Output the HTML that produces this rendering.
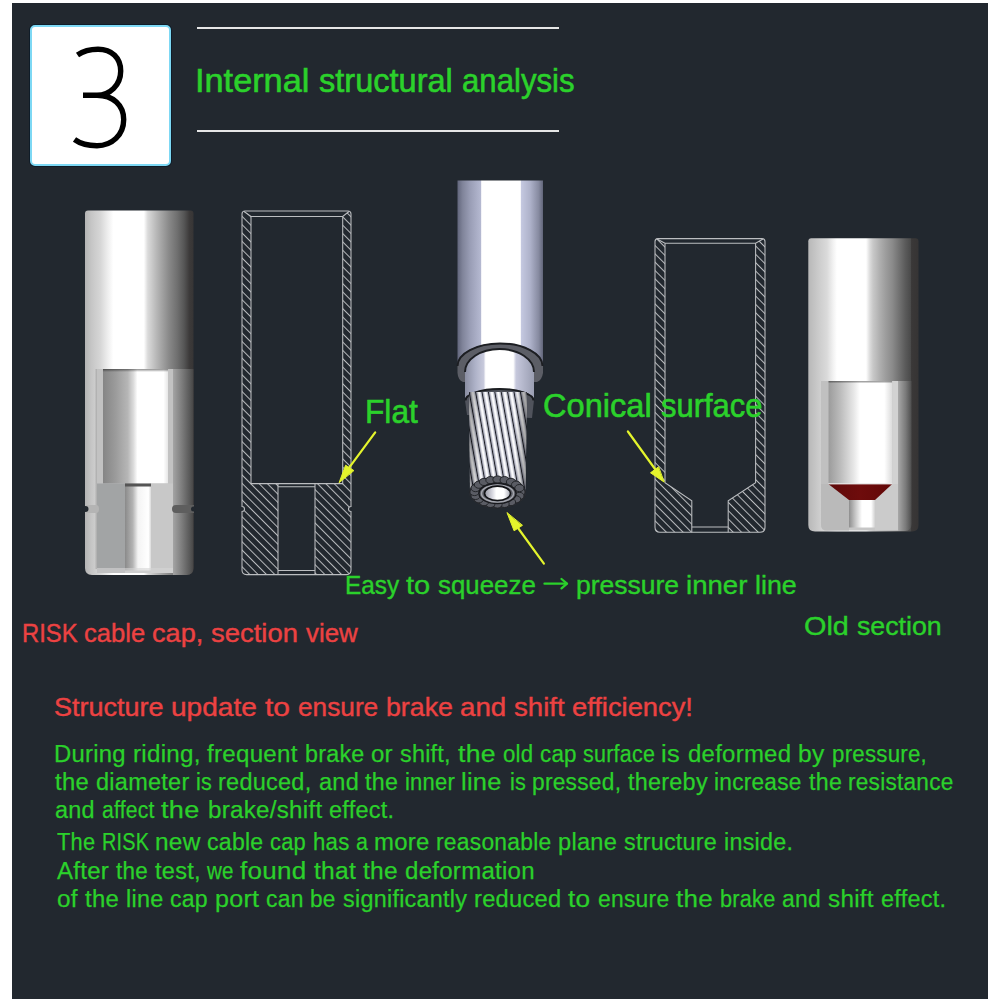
<!DOCTYPE html>
<html><head><meta charset="utf-8">
<style>
html,body{margin:0;padding:0;width:1000px;height:1000px;background:#fff;overflow:hidden}
#panel{position:absolute;left:12px;top:3px;width:976px;height:996px;background:#22282f}
.t{position:absolute;font-family:"Liberation Sans",sans-serif;white-space:nowrap;line-height:1;transform-origin:0 0;-webkit-text-stroke:0.25px currentColor}
.p{letter-spacing:0.25px}
.t[style*="font-size:33px"]{-webkit-text-stroke:0.6px currentColor}
.t[style*="font-size:26px"]{-webkit-text-stroke:0.4px currentColor}
.g{color:#2bd12b}
.r{color:#ec4242}
#box{position:absolute;left:30px;top:25px;width:141px;height:141px;box-sizing:border-box;background:#fff;border:2px solid #7dd8f4;border-radius:5px;box-shadow:0 0 0 1px #0f1c28}
.hl{position:absolute;left:197px;width:362px;height:2px;background:#e6e6e6}
svg{position:absolute;left:0;top:0}
</style></head><body>
<div id="panel"></div>
<div id="box"></div>
<div class="hl" style="top:27px"></div>
<div class="hl" style="top:130px"></div>

<svg width="1000" height="1000" viewBox="0 0 1000 1000">
  <path d="M77.5 55 C83 51.2 90 49.2 98 49.2 C112 49.2 120.7 58 120.7 71 C120.7 85 110 95.2 97 95.2 L83 95.2 M97 95.2 C113 95.2 123.7 105 123.7 119.5 C123.7 135 112 145.7 97 145.7 C88 145.7 80 143.5 74.5 139.5" fill="none" stroke="#000" stroke-width="5.4"/>
</svg>

<svg width="1000" height="1000" viewBox="0 0 1000 1000" id="sv_cyl">
  <defs>
    <linearGradient id="gA" gradientUnits="userSpaceOnUse" x1="85" y1="0" x2="194" y2="0">
      <stop offset="0" stop-color="#b4b4b4"/>
      <stop offset="0.06" stop-color="#c6c6c6"/>
      <stop offset="0.14" stop-color="#d6d6d6"/>
      <stop offset="0.22" stop-color="#f2f2f2"/>
      <stop offset="0.26" stop-color="#ffffff"/>
      <stop offset="0.54" stop-color="#ffffff"/>
      <stop offset="0.576" stop-color="#dadada"/>
      <stop offset="0.654" stop-color="#b8b8b8"/>
      <stop offset="0.713" stop-color="#a0a0a0"/>
      <stop offset="0.773" stop-color="#888888"/>
      <stop offset="0.85" stop-color="#6e6e6e"/>
      <stop offset="0.91" stop-color="#555555"/>
      <stop offset="0.958" stop-color="#3c3a3a"/>
      <stop offset="1" stop-color="#363434"/>
    </linearGradient>
    <linearGradient id="gAin" gradientUnits="userSpaceOnUse" x1="103" y1="0" x2="168" y2="0">
      <stop offset="0" stop-color="#858585"/>
      <stop offset="0.2" stop-color="#9c9c9c"/>
      <stop offset="0.38" stop-color="#b6b6b6"/>
      <stop offset="0.47" stop-color="#dcdcdc"/>
      <stop offset="0.53" stop-color="#ffffff"/>
      <stop offset="0.93" stop-color="#ffffff"/>
      <stop offset="1" stop-color="#e6e6e6"/>
    </linearGradient>
    <linearGradient id="gAbore" gradientUnits="userSpaceOnUse" x1="125" y1="0" x2="151" y2="0">
      <stop offset="0" stop-color="#8a8a8a"/>
      <stop offset="0.3" stop-color="#b4b4b4"/>
      <stop offset="0.5" stop-color="#f4f4f4"/>
      <stop offset="0.9" stop-color="#ffffff"/>
      <stop offset="1" stop-color="#dadada"/>
    </linearGradient>
    <linearGradient id="gB" gradientUnits="userSpaceOnUse" x1="808.3" y1="0" x2="918.5" y2="0">
      <stop offset="0" stop-color="#b8b8b8"/>
      <stop offset="0.106" stop-color="#cecece"/>
      <stop offset="0.17" stop-color="#dadada"/>
      <stop offset="0.225" stop-color="#f2f2f2"/>
      <stop offset="0.26" stop-color="#ffffff"/>
      <stop offset="0.524" stop-color="#ffffff"/>
      <stop offset="0.558" stop-color="#dcdcdc"/>
      <stop offset="0.587" stop-color="#c8c8c8"/>
      <stop offset="0.646" stop-color="#b0b0b0"/>
      <stop offset="0.705" stop-color="#9c9c9c"/>
      <stop offset="0.764" stop-color="#8a8a8a"/>
      <stop offset="0.823" stop-color="#727272"/>
      <stop offset="0.882" stop-color="#5a5a5a"/>
      <stop offset="0.929" stop-color="#4a4a4a"/>
      <stop offset="0.937" stop-color="#3a3838"/>
      <stop offset="1" stop-color="#363434"/>
    </linearGradient>
    <linearGradient id="gBin" gradientUnits="userSpaceOnUse" x1="828" y1="0" x2="892" y2="0">
      <stop offset="0" stop-color="#9a9a9a"/>
      <stop offset="0.2" stop-color="#bdbdbd"/>
      <stop offset="0.4" stop-color="#e6e6e6"/>
      <stop offset="0.5" stop-color="#ffffff"/>
      <stop offset="0.88" stop-color="#ffffff"/>
      <stop offset="1" stop-color="#dcdcdc"/>
    </linearGradient>
    <linearGradient id="gBbore" gradientUnits="userSpaceOnUse" x1="849" y1="0" x2="875" y2="0">
      <stop offset="0" stop-color="#8e8e8e"/>
      <stop offset="0.25" stop-color="#c8c8c8"/>
      <stop offset="0.5" stop-color="#ffffff"/>
      <stop offset="0.85" stop-color="#ffffff"/>
      <stop offset="1" stop-color="#d0d0d0"/>
    </linearGradient>
    <linearGradient id="gRed" gradientUnits="userSpaceOnUse" x1="828" y1="0" x2="892" y2="0">
      <stop offset="0" stop-color="#5e0a0a"/>
      <stop offset="0.5" stop-color="#6e0c0c"/>
      <stop offset="1" stop-color="#620808"/>
    </linearGradient>
    <linearGradient id="gAshell" gradientUnits="userSpaceOnUse" x1="173" y1="0" x2="194" y2="0">
      <stop offset="0" stop-color="#a4a4a4"/>
      <stop offset="0.45" stop-color="#7a7a7a"/>
      <stop offset="0.85" stop-color="#535353"/>
      <stop offset="1" stop-color="#444242"/>
    </linearGradient>
    <linearGradient id="gBshell" gradientUnits="userSpaceOnUse" x1="898" y1="0" x2="912" y2="0">
      <stop offset="0" stop-color="#a8a8a8"/>
      <stop offset="0.55" stop-color="#7a7a7a"/>
      <stop offset="1" stop-color="#4a4a4a"/>
    </linearGradient>
    <linearGradient id="gTopShade" x1="0" y1="0" x2="0" y2="1">
      <stop offset="0" stop-color="#000" stop-opacity="0.45"/>
      <stop offset="1" stop-color="#000" stop-opacity="0"/>
    </linearGradient>
  </defs>

  <!-- RISK cap 3D -->
  <path d="M88,210.5 L190.5,210.5 Q193.5,210.5 193.5,213.5 L193.5,568 Q193.5,575 186.5,575 L92,575 Q85,575 85,568 L85,213.5 Q85,210.5 88,210.5 Z" fill="url(#gA)"/>
  
  <!-- cutout -->
  <path d="M96.6,369 L173,369 L173,573 L102,573 Q96.6,573 96.6,567 Z" fill="#c2c2c2"/>
  <rect x="103" y="369" width="65" height="114.5" fill="url(#gAin)"/>
  <rect x="103" y="369" width="65" height="3" fill="url(#gTopShade)"/>
  <rect x="97" y="483.5" width="28" height="89.5" fill="#a2a4a5"/>
  <rect x="151" y="483.5" width="22" height="89.5" fill="#c8c8c8"/>
  <rect x="125" y="483.5" width="26" height="87" fill="url(#gAbore)"/>
  <rect x="125" y="483.5" width="26" height="3" fill="#555"/>
  <rect x="97" y="568" width="76" height="5" fill="#d6d6d6" opacity="0.6"/>
  <path d="M173,369 L193.5,369 L193.5,568 Q193.5,575 186.5,575 L173,575 Z" fill="url(#gAshell)"/>
  <rect x="95.5" y="369" width="1.5" height="200" fill="#a8a8a8" opacity="0.7"/>
  <!-- grooves -->
  <path d="M85,505 L96,505 Q99,505 99,509 Q99,513 96,513 L85,513 Z" fill="#b4b4b4"/>
  <circle cx="85.5" cy="509" r="3" fill="#22282f"/>
  <path d="M194,505 L176,505 Q172,505 172,509 Q172,513 176,513 L194,513 Z" fill="#5e5e5e"/>
  <circle cx="193.5" cy="509" r="2.5" fill="#22282f"/>

  <!-- old section 3D -->
  <path d="M811.3,238.3 L915.5,238.3 Q918.5,238.3 918.5,241.3 L918.5,525 Q918.5,531.5 912,531.5 L815,531.5 Q808.3,531.5 808.3,525 L808.3,241.3 Q808.3,238.3 811.3,238.3 Z" fill="url(#gB)"/>
  
  <path d="M821,381 L898,381 L898,530.5 L827,530.5 Q821,530.5 821,525 Z" fill="#c6c6c6"/>
  <rect x="828.3" y="381" width="63.9" height="103" fill="url(#gBin)"/>
  <rect x="828.3" y="381" width="63.9" height="2.5" fill="url(#gTopShade)"/>
  <path d="M821,484 L849,484 L849,530.5 L827,530.5 Q821,530.5 821,525 Z" fill="#bababa"/>
  <rect x="875" y="484" width="23" height="46.5" fill="#cbcbcb"/>
  <rect x="821" y="381" width="7.3" height="103" fill="#c0c0c0"/>
  <rect x="892.2" y="381" width="5.8" height="103" fill="#d2d2d2"/>
  <path d="M828.3,484 L892.2,484 L875,500 L849,500 Z" fill="url(#gRed)"/>
  <rect x="828.3" y="483.2" width="63.9" height="1.2" fill="#e8e8e8"/>
  <rect x="849" y="500" width="26" height="27.5" fill="url(#gBbore)"/>
  <path d="M898,381 L911.5,381 L911.5,524 Q911.5,530.5 905,531 L898,531 Z" fill="url(#gBshell)"/>
</svg>

<svg width="1000" height="1000" viewBox="0 0 1000 1000" id="sv_cab">
  <defs>
    <linearGradient id="gC" gradientUnits="userSpaceOnUse" x1="457.5" y1="0" x2="543" y2="0">
      <stop offset="0" stop-color="#62667c"/>
      <stop offset="0.06" stop-color="#80849a"/>
      <stop offset="0.15" stop-color="#9a9eb6"/>
      <stop offset="0.27" stop-color="#b4b8d0"/>
      <stop offset="0.279" stop-color="#f0f0f6"/>
      <stop offset="0.29" stop-color="#ffffff"/>
      <stop offset="0.735" stop-color="#ffffff"/>
      <stop offset="0.748" stop-color="#c4c8e0"/>
      <stop offset="0.85" stop-color="#aeb2ca"/>
      <stop offset="0.95" stop-color="#868aa0"/>
      <stop offset="1" stop-color="#62667a"/>
    </linearGradient>
    <linearGradient id="gS" gradientUnits="userSpaceOnUse" x1="465" y1="0" x2="534" y2="0">
      <stop offset="0" stop-color="#8a8ea2"/>
      <stop offset="0.15" stop-color="#aeb2c8"/>
      <stop offset="0.27" stop-color="#c8cadc"/>
      <stop offset="0.3" stop-color="#ffffff"/>
      <stop offset="0.7" stop-color="#ffffff"/>
      <stop offset="0.74" stop-color="#c6c8dc"/>
      <stop offset="1" stop-color="#9a9eb2"/>
    </linearGradient>
    <linearGradient id="gStr" gradientUnits="userSpaceOnUse" x1="0" y1="0" x2="6.4" y2="0">
      <stop offset="0" stop-color="#14161c"/>
      <stop offset="0.13" stop-color="#20222a"/>
      <stop offset="0.2" stop-color="#9a9cac"/>
      <stop offset="0.45" stop-color="#f4f4f8"/>
      <stop offset="0.65" stop-color="#ffffff"/>
      <stop offset="0.9" stop-color="#c4c6d2"/>
      <stop offset="1" stop-color="#7a7c8a"/>
    </linearGradient>
    <pattern id="strands" patternUnits="userSpaceOnUse" width="6.4" height="200" patternTransform="translate(470,0) skewX(10)">
      <rect x="0" y="0" width="6.4" height="200" fill="url(#gStr)"/>
    </pattern>
    <linearGradient id="gShadeStr" gradientUnits="userSpaceOnUse" x1="469" y1="0" x2="527" y2="0">
      <stop offset="0" stop-color="#000" stop-opacity="0.35"/>
      <stop offset="0.2" stop-color="#000" stop-opacity="0"/>
      <stop offset="0.8" stop-color="#000" stop-opacity="0"/>
      <stop offset="1" stop-color="#000" stop-opacity="0.4"/>
    </linearGradient>
    <linearGradient id="gHole" gradientUnits="userSpaceOnUse" x1="484.5" y1="0" x2="510.5" y2="0">
      <stop offset="0" stop-color="#9496a2"/>
      <stop offset="0.3" stop-color="#d8d8e0"/>
      <stop offset="0.45" stop-color="#ffffff"/>
      <stop offset="0.75" stop-color="#ffffff"/>
      <stop offset="1" stop-color="#a4a6b2"/>
    </linearGradient>
    <clipPath id="cStr"><path d="M469,392 L527,392 L525.5,492 L470,492 Z"/></clipPath>
  </defs>
  <!-- outer tube -->
  <rect x="457.5" y="180.5" width="85.5" height="185" fill="url(#gC)"/>
  <!-- rim -->
  <path d="M457.5,365 A42.75,22 0 0 1 543,365 L543,373 Q542,380 537,382 L463,382 Q458,380 457.5,373 Z" fill="#5c5e66"/>
  <path d="M457.5,366 A42.5,22.5 0 0 1 542.5,366" fill="none" stroke="#1c1e22" stroke-width="2"/>
  <!-- sleeve -->
  <path d="M465,372 A34.5,23 0 0 1 534,372 L534,400 L465,400 Z" fill="url(#gS)"/>
  <path d="M465,372 A34.5,23 0 0 1 534,372" fill="none" stroke="#1c1e22" stroke-width="2"/>
  <!-- sleeve end face -->
  <path d="M465,400 A34.5,11.5 0 0 1 534,400 L532,418 L467,415 Z" fill="#50535c"/>
  <path d="M465.5,400.5 A34,11.5 0 0 1 533.5,400.5" fill="none" stroke="#1a1c20" stroke-width="2"/>
  <!-- strands -->
  <g clip-path="url(#cStr)">
    <rect x="440" y="385" width="120" height="110" fill="url(#strands)"/>
    <rect x="440" y="385" width="120" height="110" fill="url(#gShadeStr)"/>
  </g>
  <!-- end cap -->
  <ellipse cx="497.5" cy="492.5" rx="28.5" ry="16" fill="#2a2c32"/>
    <ellipse cx="520.5" cy="492.0" rx="4.6" ry="3.6" fill="#5a5c64" stroke="#1e2024" stroke-width="0.9"/>
    <ellipse cx="519.4" cy="495.9" rx="4.6" ry="3.6" fill="#5a5c64" stroke="#1e2024" stroke-width="0.9"/>
    <ellipse cx="516.1" cy="499.3" rx="4.6" ry="3.6" fill="#5a5c64" stroke="#1e2024" stroke-width="0.9"/>
    <ellipse cx="511.0" cy="502.1" rx="4.6" ry="3.6" fill="#5a5c64" stroke="#1e2024" stroke-width="0.9"/>
    <ellipse cx="504.6" cy="503.9" rx="4.6" ry="3.6" fill="#5a5c64" stroke="#1e2024" stroke-width="0.9"/>
    <ellipse cx="497.5" cy="504.5" rx="4.6" ry="3.6" fill="#5a5c64" stroke="#1e2024" stroke-width="0.9"/>
    <ellipse cx="490.4" cy="503.9" rx="4.6" ry="3.6" fill="#5a5c64" stroke="#1e2024" stroke-width="0.9"/>
    <ellipse cx="484.0" cy="502.1" rx="4.6" ry="3.6" fill="#5a5c64" stroke="#1e2024" stroke-width="0.9"/>
    <ellipse cx="478.9" cy="499.3" rx="4.6" ry="3.6" fill="#5a5c64" stroke="#1e2024" stroke-width="0.9"/>
    <ellipse cx="475.6" cy="495.9" rx="4.6" ry="3.6" fill="#5a5c64" stroke="#1e2024" stroke-width="0.9"/>
    <ellipse cx="474.5" cy="492.0" rx="4.6" ry="3.6" fill="#5a5c64" stroke="#1e2024" stroke-width="0.9"/>
    <ellipse cx="475.6" cy="488.1" rx="4.6" ry="3.6" fill="#5a5c64" stroke="#1e2024" stroke-width="0.9"/>
    <ellipse cx="478.9" cy="484.7" rx="4.6" ry="3.6" fill="#5a5c64" stroke="#1e2024" stroke-width="0.9"/>
    <ellipse cx="484.0" cy="481.9" rx="4.6" ry="3.6" fill="#5a5c64" stroke="#1e2024" stroke-width="0.9"/>
    <ellipse cx="490.4" cy="480.1" rx="4.6" ry="3.6" fill="#5a5c64" stroke="#1e2024" stroke-width="0.9"/>
    <ellipse cx="497.5" cy="479.5" rx="4.6" ry="3.6" fill="#5a5c64" stroke="#1e2024" stroke-width="0.9"/>
    <ellipse cx="504.6" cy="480.1" rx="4.6" ry="3.6" fill="#5a5c64" stroke="#1e2024" stroke-width="0.9"/>
    <ellipse cx="511.0" cy="481.9" rx="4.6" ry="3.6" fill="#5a5c64" stroke="#1e2024" stroke-width="0.9"/>
    <ellipse cx="516.1" cy="484.7" rx="4.6" ry="3.6" fill="#5a5c64" stroke="#1e2024" stroke-width="0.9"/>
    <ellipse cx="519.4" cy="488.1" rx="4.6" ry="3.6" fill="#5a5c64" stroke="#1e2024" stroke-width="0.9"/>
  <ellipse cx="497.5" cy="493.5" rx="18.5" ry="10" fill="#5e6068" stroke="#18191d" stroke-width="1.4"/>
  <ellipse cx="497.5" cy="493.5" rx="16" ry="8.6" fill="none" stroke="#a4a6ae" stroke-width="1.4"/>
  <ellipse cx="497.5" cy="493.3" rx="13" ry="7.2" fill="url(#gHole)" stroke="#121316" stroke-width="1.6"/>
</svg>

<svg width="1000" height="1000" viewBox="0 0 1000 1000" id="sv_sec">
  <defs>
    <pattern id="hatch" patternUnits="userSpaceOnUse" width="5.9" height="20" patternTransform="rotate(-45)">
      <rect x="0" y="0" width="1.0" height="20" fill="#b8babd"/>
    </pattern>
    <clipPath id="c1">
      <path d="M244,211 L251,216.5 L251,483.6 L278,483.6 L278,574.6 L246,574.6 Q242,574.6 242,570.6 L242,511.5 A2.5,2.5 0 0 0 242,506.5 L242,213 Q242,211 244,211 Z"/>
      <path d="M349,211 Q351,211 351,213 L351,506.5 A2.5,2.5 0 0 0 351,511.5 L351,570.6 Q351,574.6 347,574.6 L315,574.6 L315,483.6 L342.7,483.6 L342.7,216.5 Z"/>
    </clipPath>
    <clipPath id="c2">
      <path d="M657,238.6 L665,243.2 L665,482.8 L691.8,500.8 L691.8,532.3 L660,532.3 Q655,532.3 655,527.3 L655,240.6 Q655,238.6 657,238.6 Z"/>
      <path d="M763,238.6 Q765,238.6 765,240.6 L765,527.3 Q765,532.3 760,532.3 L728.2,532.3 L728.2,500.8 L755.6,482.8 L755.6,243.2 Z"/>
    </clipPath>
  </defs>
  <g clip-path="url(#c1)"><rect x="230" y="200" width="130" height="380" fill="url(#hatch)"/></g>
  <g fill="none" stroke="#bcbec1" stroke-width="1.05">
    <path d="M245,211 L348,211 Q351,211 351,214 L351,506.5 A2.5,2.5 0 0 0 351,511.5 L351,570 Q351,574.6 346.4,574.6 L246.6,574.6 Q242,574.6 242,570 L242,511.5 A2.5,2.5 0 0 0 242,506.5 L242,214 Q242,211 245,211 Z"/>
    <path d="M244,211.5 L251,216.5 L342.7,216.5 L349,211.5 M251,216.5 L251,483.6 L342.7,483.6 L342.7,216.5 M278,483.6 L278,574.6 M315,483.6 L315,574.6 M278,486.7 L315,486.7 M278,570.4 L315,570.4"/>
  </g>
  <g clip-path="url(#c2)"><rect x="640" y="230" width="140" height="310" fill="url(#hatch)"/></g>
  <g fill="none" stroke="#bcbec1" stroke-width="1.05">
    <path d="M658,238.6 L762,238.6 Q765,238.6 765,241.6 L765,527.3 Q765,532.3 760,532.3 L660,532.3 Q655,532.3 655,527.3 L655,241.6 Q655,238.6 658,238.6 Z"/>
    <path d="M657,239 L665,243.2 L755.6,243.2 L763,239 M665,243.2 L665,482.8 L691.8,500.8 L691.8,532.3 M755.6,243.2 L755.6,482.8 L728.2,500.8 L728.2,532.3 M691.8,527 L728.2,527"/>
  </g>
  <!-- arrows -->
  <g stroke="#e4f42c" stroke-width="2.2" fill="#e4f42c" stroke-linecap="round">
    <line x1="375.2" y1="432.4" x2="349" y2="467.8"/>
    <path d="M339.2,482.4 L345.6,465.2 L353.6,470.4 Z" stroke-width="1" stroke-linejoin="round"/>
    <line x1="627.9" y1="431.5" x2="655" y2="469"/>
    <path d="M663.9,481.9 L650.5,472.8 L658.3,467.0 Z" stroke-width="1" stroke-linejoin="round"/>
    <line x1="543.9" y1="563.7" x2="518" y2="528"/>
    <path d="M507.1,512.9 L514.1,530.8 L522.2,525.5 Z" stroke-width="1" stroke-linejoin="round"/>
  </g>
  <g stroke="#2bd12b" stroke-width="2.3" fill="none" stroke-linecap="round" stroke-linejoin="round">
    <line x1="544.5" y1="583.7" x2="566.5" y2="583.7"/>
    <path d="M561.5,579 L567,583.7 L561.5,588.4"/>
  </g>
</svg>

<div class="t g" id="t_title_0" style="left:194.91px;top:63.67px;font-size:33px;transform:scaleX(1.0392)">Internal</div>
<div class="t g" id="t_title_1" style="left:318.82px;top:63.67px;font-size:33px;transform:scaleX(0.9858)">structural</div>
<div class="t g" id="t_title_2" style="left:461.67px;top:63.67px;font-size:33px;transform:scaleX(0.9437)">analysis</div>
<div class="t g" id="t_flat" style="left:364.88px;top:394.57px;font-size:33px;transform:scaleX(0.9597)">Flat</div>
<div class="t g" id="t_con_0" style="left:543.14px;top:389.27px;font-size:33px;transform:scaleX(0.9871)">Conical</div>
<div class="t g" id="t_con_1" style="left:660.82px;top:389.27px;font-size:33px;transform:scaleX(0.9367)">surface</div>
<div class="t g" id="t_easy_0" style="left:344.64px;top:572.29px;font-size:26px;transform:scaleX(0.9377)">Easy</div>
<div class="t g" id="t_easy_1" style="left:405.64px;top:572.29px;font-size:26px;transform:scaleX(1.1139)">to</div>
<div class="t g" id="t_easy_2" style="left:437.82px;top:572.29px;font-size:26px;transform:scaleX(0.9945)">squeeze</div>
<div class="t g" id="t_easy2_0" style="left:576.01px;top:572.29px;font-size:26px;transform:scaleX(1.0186)">pressure</div>
<div class="t g" id="t_easy2_1" style="left:686.37px;top:572.29px;font-size:26px;transform:scaleX(1.0609)">inner</div>
<div class="t g" id="t_easy2_2" style="left:755.40px;top:572.29px;font-size:26px;transform:scaleX(1.0304)">line</div>
<div class="t r" id="t_risk_0" style="left:22.03px;top:620.09px;font-size:26px;transform:scaleX(0.9154)">RISK</div>
<div class="t r" id="t_risk_1" style="left:84.14px;top:620.09px;font-size:26px;transform:scaleX(0.9837)">cable</div>
<div class="t r" id="t_risk_2" style="left:152.34px;top:620.09px;font-size:26px;transform:scaleX(1.0430)">cap,</div>
<div class="t r" id="t_risk_3" style="left:211.13px;top:620.09px;font-size:26px;transform:scaleX(1.0546)">section</div>
<div class="t r" id="t_risk_4" style="left:305.62px;top:620.09px;font-size:26px;transform:scaleX(0.9955)">view</div>
<div class="t g" id="t_old_0" style="left:803.73px;top:612.79px;font-size:26px;transform:scaleX(1.1096)">Old</div>
<div class="t g" id="t_old_1" style="left:856.63px;top:612.79px;font-size:26px;transform:scaleX(1.0282)">section</div>
<div class="t r" id="t_struct_0" style="left:53.99px;top:693.59px;font-size:26px;transform:scaleX(1.0390)">Structure</div>
<div class="t r" id="t_struct_1" style="left:171.06px;top:693.59px;font-size:26px;transform:scaleX(1.0788)">update</div>
<div class="t r" id="t_struct_2" style="left:264.64px;top:693.59px;font-size:26px;transform:scaleX(1.1536)">to</div>
<div class="t r" id="t_struct_3" style="left:298.12px;top:693.59px;font-size:26px;transform:scaleX(1.0090)">ensure</div>
<div class="t r" id="t_struct_4" style="left:385.60px;top:693.59px;font-size:26px;transform:scaleX(1.0282)">brake</div>
<div class="t r" id="t_struct_5" style="left:459.87px;top:693.59px;font-size:26px;transform:scaleX(1.0644)">and</div>
<div class="t r" id="t_struct_6" style="left:513.73px;top:693.59px;font-size:26px;transform:scaleX(1.0625)">shift</div>
<div class="t r" id="t_struct_7" style="left:572.08px;top:693.59px;font-size:26px;transform:scaleX(1.0499)">efficiency!</div>
<div class="t g p" id="t_l1_0" style="left:53.89px;top:742.88px;font-size:23px;transform:scaleX(1.0370)">During</div>
<div class="t g p" id="t_l1_1" style="left:132.58px;top:742.88px;font-size:23px;transform:scaleX(1.0524)">riding,</div>
<div class="t g p" id="t_l1_2" style="left:207.33px;top:742.88px;font-size:23px;transform:scaleX(1.0496)">frequent</div>
<div class="t g p" id="t_l1_3" style="left:305.01px;top:742.88px;font-size:23px;transform:scaleX(1.0136)">brake</div>
<div class="t g p" id="t_l1_4" style="left:371.33px;top:742.88px;font-size:23px;transform:scaleX(1.0438)">or</div>
<div class="t g p" id="t_l1_5" style="left:400.13px;top:742.88px;font-size:23px;transform:scaleX(1.0157)">shift,</div>
<div class="t g p" id="t_l1_6" style="left:457.74px;top:742.88px;font-size:23px;transform:scaleX(1.1584)">the</div>
<div class="t g p" id="t_l1_7" style="left:503.32px;top:742.88px;font-size:23px;transform:scaleX(0.9663)">old</div>
<div class="t g p" id="t_l1_8" style="left:540.12px;top:742.88px;font-size:23px;transform:scaleX(0.9714)">cap</div>
<div class="t g p" id="t_l1_9" style="left:583.32px;top:742.88px;font-size:23px;transform:scaleX(0.9338)">surface</div>
<div class="t g p" id="t_l1_10" style="left:661.43px;top:742.88px;font-size:23px;transform:scaleX(1.1077)">is</div>
<div class="t g p" id="t_l1_11" style="left:687.73px;top:742.88px;font-size:23px;transform:scaleX(1.0411)">deformed</div>
<div class="t g p" id="t_l1_12" style="left:797.86px;top:742.88px;font-size:23px;transform:scaleX(1.0690)">by</div>
<div class="t g p" id="t_l1_13" style="left:831.55px;top:742.88px;font-size:23px;transform:scaleX(0.9687)">pressure,</div>
<div class="t g p" id="t_l2_0" style="left:54.93px;top:770.63px;font-size:23px;transform:scaleX(1.0365)">the</div>
<div class="t g p" id="t_l2_1" style="left:95.73px;top:770.63px;font-size:23px;transform:scaleX(1.0219)">diameter</div>
<div class="t g p" id="t_l2_2" style="left:196.08px;top:770.63px;font-size:23px;transform:scaleX(0.9389)">is</div>
<div class="t g p" id="t_l2_3" style="left:218.31px;top:770.63px;font-size:23px;transform:scaleX(1.0211)">reduced,</div>
<div class="t g p" id="t_l2_4" style="left:318.53px;top:770.63px;font-size:23px;transform:scaleX(1.0226)">and</div>
<div class="t g p" id="t_l2_5" style="left:365.33px;top:770.63px;font-size:23px;transform:scaleX(1.0108)">the</div>
<div class="t g p" id="t_l2_6" style="left:405.16px;top:770.63px;font-size:23px;transform:scaleX(0.9554)">inner</div>
<div class="t g p" id="t_l2_7" style="left:461.43px;top:770.63px;font-size:23px;transform:scaleX(1.1049)">line</div>
<div class="t g p" id="t_l2_8" style="left:509.57px;top:770.63px;font-size:23px;transform:scaleX(0.9432)">is</div>
<div class="t g p" id="t_l2_9" style="left:531.93px;top:770.63px;font-size:23px;transform:scaleX(0.9890)">pressed,</div>
<div class="t g p" id="t_l2_10" style="left:627.73px;top:770.63px;font-size:23px;transform:scaleX(1.0174)">thereby</div>
<div class="t g p" id="t_l2_11" style="left:714.34px;top:770.63px;font-size:23px;transform:scaleX(0.9855)">increase</div>
<div class="t g p" id="t_l2_12" style="left:808.53px;top:770.63px;font-size:23px;transform:scaleX(1.0108)">the</div>
<div class="t g p" id="t_l2_13" style="left:848.34px;top:770.63px;font-size:23px;transform:scaleX(0.9831)">resistance</div>
<div class="t g p" id="t_l3_0" style="left:55.13px;top:799.13px;font-size:23px;transform:scaleX(1.0183)">and</div>
<div class="t g p" id="t_l3_1" style="left:101.71px;top:799.13px;font-size:23px;transform:scaleX(0.9191)">affect</div>
<div class="t g p" id="t_l3_2" style="left:160.55px;top:799.13px;font-size:23px;transform:scaleX(1.1800)">the</div>
<div class="t g p" id="t_l3_3" style="left:207.98px;top:799.13px;font-size:23px;transform:scaleX(1.0507)">brake/shift</div>
<div class="t g p" id="t_l3_4" style="left:329.33px;top:799.13px;font-size:23px;transform:scaleX(1.0219)">effect.</div>
<div class="t g p" id="t_l4_0" style="left:57.32px;top:831.38px;font-size:23px;transform:scaleX(0.9496)">The</div>
<div class="t g p" id="t_l4_1" style="left:102.05px;top:831.38px;font-size:23px;transform:scaleX(0.8610)">RISK</div>
<div class="t g p" id="t_l4_2" style="left:154.67px;top:831.38px;font-size:23px;transform:scaleX(1.0621)">new</div>
<div class="t g p" id="t_l4_3" style="left:207.33px;top:831.38px;font-size:23px;transform:scaleX(1.0036)">cable</div>
<div class="t g p" id="t_l4_4" style="left:270.42px;top:831.38px;font-size:23px;transform:scaleX(0.9522)">cap</div>
<div class="t g p" id="t_l4_5" style="left:312.75px;top:831.38px;font-size:23px;transform:scaleX(0.9661)">has</div>
<div class="t g p" id="t_l4_6" style="left:355.72px;top:831.38px;font-size:23px;transform:scaleX(0.9284)">a</div>
<div class="t g p" id="t_l4_7" style="left:373.89px;top:831.38px;font-size:23px;transform:scaleX(1.0393)">more</div>
<div class="t g p" id="t_l4_8" style="left:436.33px;top:831.38px;font-size:23px;transform:scaleX(0.9923)">reasonable</div>
<div class="t g p" id="t_l4_9" style="left:558.30px;top:831.38px;font-size:23px;transform:scaleX(1.0259)">plane</div>
<div class="t g p" id="t_l4_10" style="left:624.13px;top:831.38px;font-size:23px;transform:scaleX(1.0145)">structure</div>
<div class="t g p" id="t_l4_11" style="left:723.91px;top:831.38px;font-size:23px;transform:scaleX(1.0153)">inside.</div>
<div class="t g p" id="t_l5_0" style="left:57.13px;top:859.88px;font-size:23px;transform:scaleX(1.0450)">After</div>
<div class="t g p" id="t_l5_1" style="left:116.12px;top:859.88px;font-size:23px;transform:scaleX(0.9755)">the</div>
<div class="t g p" id="t_l5_2" style="left:154.53px;top:859.88px;font-size:23px;transform:scaleX(1.0248)">test,</div>
<div class="t g p" id="t_l5_3" style="left:207.01px;top:859.88px;font-size:23px;transform:scaleX(0.8950)">we</div>
<div class="t g p" id="t_l5_4" style="left:239.74px;top:859.88px;font-size:23px;transform:scaleX(1.1307)">found</div>
<div class="t g p" id="t_l5_5" style="left:313.73px;top:859.88px;font-size:23px;transform:scaleX(1.0695)">that</div>
<div class="t g p" id="t_l5_6" style="left:362.93px;top:859.88px;font-size:23px;transform:scaleX(1.0670)">the</div>
<div class="t g p" id="t_l5_7" style="left:404.93px;top:859.88px;font-size:23px;transform:scaleX(1.0457)">deformation</div>
<div class="t g p" id="t_l6_0" style="left:57.13px;top:888.38px;font-size:23px;transform:scaleX(1.0562)">of</div>
<div class="t g p" id="t_l6_1" style="left:84.93px;top:888.38px;font-size:23px;transform:scaleX(1.0405)">the</div>
<div class="t g p" id="t_l6_2" style="left:125.91px;top:888.38px;font-size:23px;transform:scaleX(1.0178)">line</div>
<div class="t g p" id="t_l6_3" style="left:170.13px;top:888.38px;font-size:23px;transform:scaleX(1.0028)">cap</div>
<div class="t g p" id="t_l6_4" style="left:214.65px;top:888.38px;font-size:23px;transform:scaleX(1.0892)">port</div>
<div class="t g p" id="t_l6_5" style="left:266.12px;top:888.38px;font-size:23px;transform:scaleX(0.9940)">can</div>
<div class="t g p" id="t_l6_6" style="left:310.34px;top:888.38px;font-size:23px;transform:scaleX(0.9835)">be</div>
<div class="t g p" id="t_l6_7" style="left:342.53px;top:888.38px;font-size:23px;transform:scaleX(1.0171)">significantly</div>
<div class="t g p" id="t_l6_8" style="left:473.50px;top:888.38px;font-size:23px;transform:scaleX(1.0298)">reduced</div>
<div class="t g p" id="t_l6_9" style="left:567.74px;top:888.38px;font-size:23px;transform:scaleX(1.1397)">to</div>
<div class="t g p" id="t_l6_10" style="left:597.72px;top:888.38px;font-size:23px;transform:scaleX(0.9941)">ensure</div>
<div class="t g p" id="t_l6_11" style="left:675.74px;top:888.38px;font-size:23px;transform:scaleX(1.1297)">the</div>
<div class="t g p" id="t_l6_12" style="left:720.37px;top:888.38px;font-size:23px;transform:scaleX(0.9438)">brake</div>
<div class="t g p" id="t_l6_13" style="left:782.12px;top:888.38px;font-size:23px;transform:scaleX(0.9964)">and</div>
<div class="t g p" id="t_l6_14" style="left:827.73px;top:888.38px;font-size:23px;transform:scaleX(1.0545)">shift</div>
<div class="t g p" id="t_l6_15" style="left:880.53px;top:888.38px;font-size:23px;transform:scaleX(1.0202)">effect.</div>
</body></html>
